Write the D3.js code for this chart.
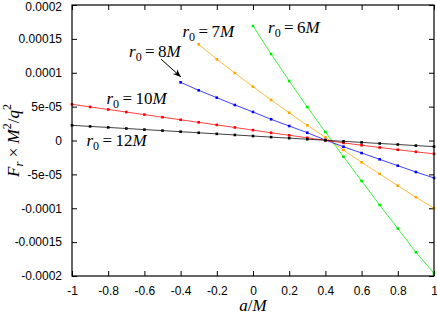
<!DOCTYPE html>
<html>
<head>
<meta charset="utf-8">
<script src="https://cdn.jsdelivr.net/npm/d3@7"></script>
<style>
  body { margin: 0; background: #fff; }
  .tick text { font-family: "Liberation Sans", Arial, sans-serif; font-size: 12px; fill: #000; }
  .lab { font-family: "Liberation Serif", "DejaVu Serif", serif; font-size: 17px; fill: #000; }
</style>
</head>
<body>
<svg id="chart" width="437" height="314"></svg>
<script>
// a/M values, step 0.1
const aAll = [-1, -0.9, -0.8, -0.7, -0.6, -0.5, -0.4, -0.3, -0.2, -0.1, 0,
              0.1, 0.2, 0.3, 0.4, 0.5, 0.6, 0.7, 0.8, 0.9, 1];

// F_r * M^2 / q^2, in units of 1e-5
const r12 = [2.24, 2.08, 1.93, 1.77, 1.61, 1.46, 1.30, 1.14, 0.98, 0.82, 0.66,
             0.50, 0.35, 0.19, 0.04, -0.12, -0.28, -0.44, -0.59, -0.75, -0.90];
const r10 = [5.34, 4.96, 4.58, 4.20, 3.82, 3.44, 3.06, 2.68, 2.30, 1.92, 1.53,
             1.14, 0.77, 0.40, 0.03, -0.35, -0.70, -1.03, -1.36, -1.67, -1.97];
const r8  = [8.59, 7.41, 6.32, 5.24, 4.21, 3.13, 2.14, 1.15, 0.07,
             -0.92, -1.85, -2.78, -3.72, -4.65, -5.53];
const r7  = [14.2, 11.99, 9.96, 7.94, 5.98, 4.10, 2.24, 0.47,
             -1.40, -3.22, -4.94, -6.67, -8.38, -10.0];
const r6  = [16.9, 12.77, 8.78, 4.94, 1.25, -2.39, -5.98, -9.52, -13.0, -16.5, -19.6];

const seriesNames = ["6", "7", "8", "10", "12"];
const seriesColors = { "12": "#000000", "10": "#ff0000", "8": "#0000ff", "7": "#ffa500", "6": "#00ee00" };
const seriesVals = { "12": r12, "10": r10, "8": r8, "7": r7, "6": r6 };

const xTicks = [-1, -0.8, -0.6, -0.4, -0.2, 0, 0.2, 0.4, 0.6, 0.8, 1];
const yTicks = [20, 15, 10, 5, 0, -5, -10, -15, -20];
const yTickLabels = ["0.0002", "0.00015", "0.0001", "5e-05", "0", "-5e-05", "-0.0001", "-0.00015", "-0.0002"];

// label anchors (a/M, value)
const labelPos = { "6": [0.083, 15.9], "7": [-0.39, 15.3], "8": [-0.685, 12.3], "10": [-0.81, 5.4], "12": [-0.92, -0.8] };

const W = 437, H = 314;
const margin = { top: 5, right: 3, bottom: 38, left: 72 };
const width = W - margin.left - margin.right;
const height = H - margin.top - margin.bottom;

const svg = d3.select("#chart");
const g = svg.append("g").attr("transform", `translate(${margin.left},${margin.top})`);

const x = d3.scaleLinear().domain([-1, 1]).range([0, width]);
const y = d3.scaleLinear().domain([-20, 20]).range([height, 0]);

// axes with inward ticks, mirrored
g.append("g").attr("transform", `translate(0,${height})`)
  .call(d3.axisBottom(x).tickValues(xTicks).tickSize(-5).tickPadding(10).tickFormat(d => String(d)))
  .call(a => a.select(".domain").remove());
g.append("g")
  .call(d3.axisTop(x).tickValues(xTicks).tickSize(-5).tickFormat(""))
  .call(a => a.select(".domain").remove());
g.append("g")
  .call(d3.axisLeft(y).tickValues(yTicks).tickSize(-5).tickPadding(10).tickFormat((d, i) => yTickLabels[i]))
  .call(a => a.select(".domain").remove())
  .call(a => a.selectAll(".tick text").filter((d, i) => i === 0).attr("dy", "0.45em"));
g.append("g").attr("transform", `translate(${width},0)`)
  .call(d3.axisRight(y).tickValues(yTicks).tickSize(-5).tickFormat(""))
  .call(a => a.select(".domain").remove());

g.selectAll(".tick line").attr("stroke", "#000");

// series
const line = d3.line().x(d => x(d[0])).y(d => y(d[1]));
seriesNames.forEach(name => {
  const vals = seriesVals[name];
  const offset = aAll.length - vals.length;
  const pts = vals.map((v, i) => [aAll[i + offset], v]);
  const col = seriesColors[name];
  g.append("path").datum(pts)
    .attr("fill", "none").attr("stroke", col).attr("stroke-width", 0.75)
    .attr("d", line);
  g.selectAll(null).data(pts).enter().append("rect")
    .attr("x", d => x(d[0]) - 1.3).attr("y", d => y(d[1]) - 1.3)
    .attr("width", 2.6).attr("height", 2.6).attr("fill", col);
});

// frame
g.append("rect").attr("width", width).attr("height", height)
  .attr("fill", "none").attr("stroke", "#000").attr("stroke-width", 1.2);

// series labels
seriesNames.forEach(name => {
  const p = labelPos[name];
  const t = g.append("text").attr("class", "lab")
    .attr("x", x(p[0])).attr("y", y(p[1]));
  t.append("tspan").attr("font-style", "italic").text("r");
  t.append("tspan").attr("font-size", "12px").attr("dy", 4).text("0");
  t.append("tspan").attr("dy", -4).text("\u2009=\u2009" + name);
  t.append("tspan").attr("font-style", "italic").text("M");
});

// arrow for r0 = 8M
svg.append("defs").append("marker")
  .attr("id", "ah").attr("viewBox", "0 0 10 10").attr("refX", 10).attr("refY", 5)
  .attr("markerWidth", 8).attr("markerHeight", 8).attr("orient", "auto")
  .append("path").attr("d", "M0,1 L10,5 L0,9 L3,5 Z").attr("fill", "#000");
g.append("line")
  .attr("x1", x(-0.508)).attr("y1", y(12.0))
  .attr("x2", x(-0.398)).attr("y2", y(9.37))
  .attr("stroke", "#000").attr("stroke-width", 1)
  .attr("marker-end", "url(#ah)");

// axis titles
svg.append("text").attr("class", "lab")
  .attr("x", margin.left + width / 2).attr("y", 311)
  .attr("text-anchor", "middle").attr("font-size", "19px")
  .call(t => {
    t.append("tspan").attr("font-style", "italic").text("a");
    t.append("tspan").text("/");
    t.append("tspan").attr("font-style", "italic").text("M");
  });

svg.append("text").attr("class", "lab")
  .attr("transform", `translate(19,${margin.top + height / 2}) rotate(-90)`)
  .attr("text-anchor", "middle").attr("font-size", "19px")
  .call(t => {
    t.append("tspan").attr("font-style", "italic").text("F");
    t.append("tspan").attr("font-style", "italic").attr("font-size", "13px").attr("dy", 4).text("r");
    t.append("tspan").attr("dy", -4).text(" × ");
    t.append("tspan").attr("font-style", "italic").text("M");
    t.append("tspan").attr("font-size", "12px").attr("dy", -8).text("2");
    t.append("tspan").attr("dy", 8).text("/");
    t.append("tspan").attr("font-style", "italic").text("q");
    t.append("tspan").attr("font-size", "12px").attr("dy", -8).text("2");
  });
</script>
</body>
</html>
